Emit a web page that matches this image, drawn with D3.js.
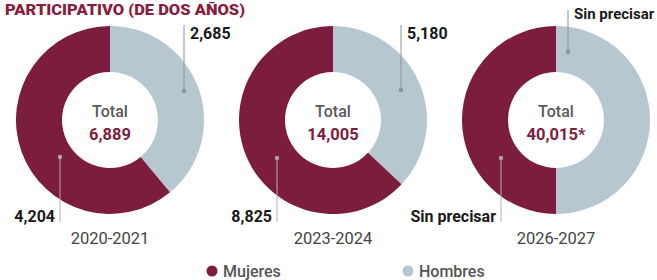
<!DOCTYPE html>
<html><head><meta charset="utf-8">
<script src="https://cdn.jsdelivr.net/npm/d3@7"></script>
<style>body{margin:0;background:#fff}svg{display:block}</style>
</head><body>
<svg id="c" width="657" height="280"></svg>
<script>
const years = ["2020-2021", "2023-2024", "2026-2027"];
const mujeres = [4204, 8825, null];
const hombres = [2685, 5180, null];
const totals = ["6,889", "14,005", "40,015*"];
const mujeresLabels = ["4,204", "8,825", "Sin precisar"];
const hombresLabels = ["2,685", "5,180", "Sin precisar"];
const legendLabels = ["Mujeres", "Hombres"];
const title = "PARTICIPATIVO (DE DOS AÑOS)";

const C_M = "#7c1d3e", C_H = "#b7c7cf";
const svg = d3.select("#c");
const font = "Roboto, 'Open Sans', sans-serif";

svg.append("text").attr("x", 5).attr("y", 14.5).attr("font-family", font)
  .attr("font-weight", 900).attr("font-size", 15.5).attr("fill", "#8a1c3c")
  .attr("textLength", 240).attr("lengthAdjust", "spacingAndGlyphs").text(title);

const xs = d3.scalePoint().domain(years).range([110, 556]);
const cy = 120, rO = 94, rI = 48;
const arc = d3.arc().innerRadius(rI).outerRadius(rO);
const pie = d3.pie().sort(null).value(d => d.v);

// leader geometry (layout)
const hDot = [[74, -29, -95], [68, -30, -95], [12, -68, -110]];
const mDot = [[-50, 37, 102], [-56, 38, 102], [-55, 38, 102]];

years.forEach((y, i) => {
  const cx = xs(y);
  const g = svg.append("g").attr("transform", `translate(${cx},${cy})`);
  const data = [
    {k: "h", v: hombres[i] ?? 1, c: C_H},
    {k: "m", v: mujeres[i] ?? 1, c: C_M}
  ];
  g.selectAll("path").data(pie(data)).join("path").attr("d", arc).attr("fill", d => d.data.c);

  g.append("text").attr("text-anchor", "middle").attr("y", -3).attr("font-family", font)
    .attr("font-weight", 500).attr("font-size", 16).attr("fill", "#5a5a5a").text("Total");
  g.append("text").attr("text-anchor", "middle").attr("y", 20).attr("font-family", font)
    .attr("font-weight", 700).attr("font-size", 16.5).attr("fill", "#7c1d3e").text(totals[i]);

  // hombres leader
  const [hx, hy, htop] = hDot[i];
  g.append("line").attr("x1", hx).attr("x2", hx).attr("y1", hy).attr("y2", htop)
    .attr("stroke", "#8a949a").attr("stroke-width", 1);
  g.append("circle").attr("cx", hx).attr("cy", hy).attr("r", 2.2).attr("fill", "#8a949a");
  g.append("text").attr("x", hx + 6).attr("y", i === 2 ? -101 : -81).attr("font-family", font)
    .attr("font-weight", 700).attr("font-size", i === 2 ? 15 : 16).attr("fill", "#1a1a1a")
    .text(hombresLabels[i]);

  // mujeres leader
  const [mx, my, mbot] = mDot[i];
  g.append("line").attr("x1", mx).attr("x2", mx).attr("y1", my).attr("y2", mbot)
    .attr("stroke", "#b0b0b0").attr("stroke-width", 1);
  g.append("circle").attr("cx", mx).attr("cy", my).attr("r", 2.2).attr("fill", "#b0a0a8");
  g.append("text").attr("x", mx - 5).attr("y", 102).attr("text-anchor", "end").attr("font-family", font)
    .attr("font-weight", 700).attr("font-size", 16).attr("fill", "#1a1a1a").text(mujeresLabels[i]);

  g.append("text").attr("text-anchor", "middle").attr("y", 124).attr("font-family", font)
    .attr("font-size", 16.5).attr("fill", "#444").text(y);
});

// legend
const lx = d3.scalePoint().domain(legendLabels).range([212, 408]);
const lc = d3.scaleOrdinal().domain(legendLabels).range([C_M, C_H]);
legendLabels.forEach(l => {
  svg.append("circle").attr("cx", lx(l)).attr("cy", 271).attr("r", 5.5).attr("fill", lc(l));
  svg.append("text").attr("x", lx(l) + 11).attr("y", 277).attr("font-family", font)
    .attr("font-weight", 500).attr("font-size", 16).attr("fill", "#555").text(l);
});
</script>
</body></html>
